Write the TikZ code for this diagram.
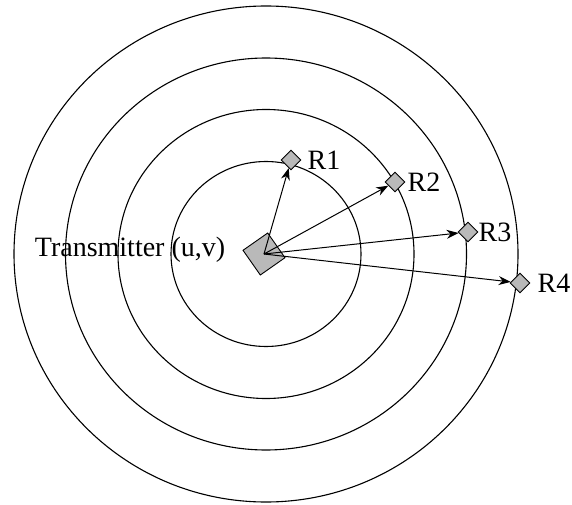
\documentclass[tikz,border=0pt]{standalone}
\usepackage{fontspec}
\setmainfont{Liberation Serif}
\usetikzlibrary{shapes.geometric,positioning,arrows.meta}
\begin{document}
\begin{tikzpicture}[x=1pt,y=-1pt,
  station/.style={diamond,draw,fill=gray!55,inner sep=0pt,minimum size=20pt,line width=0.9pt},
  rxlabel/.style={inner sep=0pt,font=\fontsize{28}{30}\selectfont},
  link/.style={-{Stealth[length=12pt,width=9pt]},line width=1pt}]
\useasboundingbox (0,0) rectangle (572,505);
\coordinate (c) at (266,254);
\draw[line width=1.1pt] (c) ellipse [x radius=95,y radius=92.5];
\draw[line width=1.1pt] (c) ellipse [x radius=148,y radius=144.5];
\draw[line width=1.1pt] (c) ellipse [x radius=200.5,y radius=196];
\draw[line width=1.1pt] (c) ellipse [x radius=252,y radius=248];
\node[station,minimum size=43pt,rotate=-10] (tx) at (264,254) {};
\node[rxlabel,left=17pt of tx] (txlabel) {Transmitter (u,v)};
\node[station] (r1) at (291,160) {};
\node[rxlabel,right=6pt of r1] (l1) {R1};
\node[station] (r2) at (395,182) {};
\node[rxlabel,right=2pt of r2] (l2) {R2};
\node[station] (r3) at (468,232) {};
\node[rxlabel,right=0pt of r3] (l3) {R3};
\node[station] (r4) at (520,283) {};
\node[rxlabel,right=7pt of r4] (l4) {R4};
\draw[link] (tx.center) -- (r1);
\draw[link] (tx.center) -- (r2);
\draw[link] (tx.center) -- (r3);
\draw[link] (tx.center) -- (r4);
\end{tikzpicture}
\end{document}
